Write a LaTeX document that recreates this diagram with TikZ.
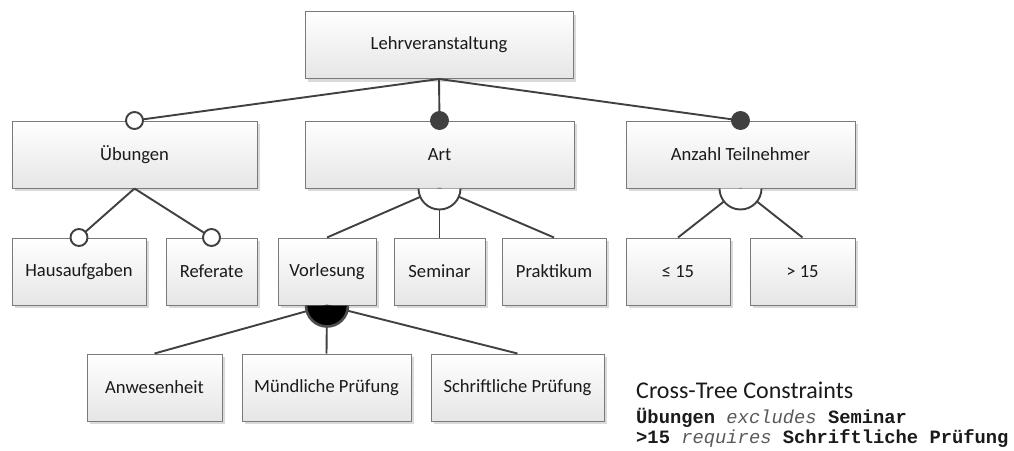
\documentclass[tikz,border=0pt]{standalone}
\usepackage{fontspec}
\setmainfont{Carlito}
\newfontfamily\codefont{Liberation Mono}
\usetikzlibrary{shadows}
\definecolor{edgegray}{HTML}{404040}
\definecolor{boxline}{HTML}{7A7A7A}
\definecolor{shadowgray}{HTML}{DADADA}
\definecolor{textdark}{HTML}{1A1A1A}

\begin{document}
\begin{tikzpicture}[x=1pt,y=-1pt,
  feature/.style={draw=boxline, line width=1pt, top color=white, bottom color=black!10,
    minimum height=67pt, inner sep=0pt, text=textdark,
    font=\fontsize{18.6}{22}\selectfont,
    general shadow={fill=shadowgray, shadow xshift=3pt, shadow yshift=-3pt}},
  link/.style={draw=edgegray, line width=1.9pt},
  optional/.style={link, fill=white},
  mandatory/.style={link, fill=edgegray},
  altgroup/.style={link, fill=white},
  orgroup/.style={draw=black!70, line width=2.6pt, fill=black},
  codeline/.style={anchor=base west, inner sep=0pt, text=textdark,
    font=\codefont\fontsize{18.8}{22}\selectfont}]

\useasboundingbox (0,0) rectangle (1014,450);

% feature nodes
\node[feature, minimum width=268pt] (lv)   at (439,45)    {Lehrveranstaltung};
\node[feature, minimum width=245pt] (ueb)  at (134.5,154.5) {Übungen};
\node[feature, minimum width=269pt] (art)  at (439.5,154.5) {Art};
\node[feature, minimum width=229pt] (anz)  at (740.5,154.5) {Anzahl Teilnehmer};
\node[feature, minimum width=134pt] (haus) at (79,271.5)  {Hausaufgaben};
\node[feature, minimum width=91pt]  (ref)  at (211.5,271.5) {Referate};
\node[feature, minimum width=98pt]  (vorl) at (327,271.5) {Vorlesung};
\node[feature, minimum width=91pt]  (sem)  at (439.5,271.5) {Seminar};
\node[feature, minimum width=104pt] (prak) at (554,271.5) {Praktikum};
\node[feature, minimum width=104pt] (le)   at (678,271.5) {≤ 15};
\node[feature, minimum width=105pt] (gt)   at (802.5,271.5) {> 15};
\node[feature, minimum width=135pt] (anw)  at (154.5,387.5) {Anwesenheit};
\node[feature, minimum width=169pt] (mue)  at (326.5,387.5) {Mündliche Prüfung};
\node[feature, minimum width=173pt] (sch)  at (517.5,387.5) {Schriftliche Prüfung};

% connectors
\draw[link] (lv.south) -- (ueb.north);
\draw[link] (lv.south) -- (art.north);
\draw[link] (lv.south) -- (anz.north);
\draw[link] (ueb.south) -- (haus.north);
\draw[link] (ueb.south) -- (ref.north);
\draw[link] (art.south) -- (vorl.north);
\draw[link] (art.south) -- (sem.north);
\draw[link] (art.south) -- (prak.north);
\draw[link] (anz.south) -- (le.north);
\draw[link] (anz.south) -- (gt.north);
\draw[link] (vorl.south) -- (anw.north);
\draw[link] (vorl.south) -- (mue.north);
\draw[link] (vorl.south) -- (sch.north);

% group markers
\draw[altgroup] ([xshift=-21pt]art.south) arc[start angle=180, end angle=360, radius=21pt];
\draw[altgroup] ([xshift=-21pt]anz.south) arc[start angle=180, end angle=360, radius=21pt];
\draw[orgroup] ([xshift=-21pt]vorl.south) arc[start angle=180, end angle=360, radius=21pt];

% optional / mandatory markers
\draw[optional]  (ueb.north)  circle[radius=8.5pt];
\draw[optional]  (haus.north) circle[radius=8.5pt];
\draw[optional]  (ref.north)  circle[radius=8.5pt];
\draw[mandatory] (art.north)  circle[radius=8.5pt];
\draw[mandatory] (anz.north)  circle[radius=8.5pt];

% cross-tree constraints
\node[anchor=base west, inner sep=0pt, text=textdark, font=\fontsize{24}{28}\selectfont]
  (ctc) at (636,398) {Cross-Tree Constraints};
\node[codeline] (c1) at (636,423)
  {\textbf{Übungen} \textcolor{black!65}{\textit{excludes}} \textbf{Seminar}};
\node[codeline] (c2) at (636,443)
  {\textbf{>15} \textcolor{black!65}{\textit{requires}} \textbf{Schriftliche Prüfung}};
\end{tikzpicture}
\end{document}
